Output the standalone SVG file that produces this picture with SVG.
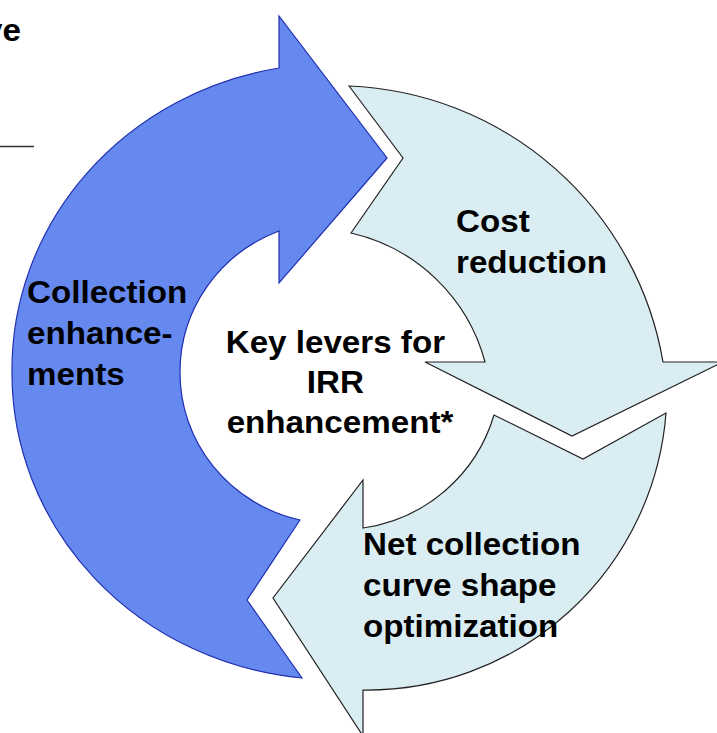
<svg xmlns="http://www.w3.org/2000/svg" width="717" height="733" viewBox="0 0 717 733">
  <style>
    .lbl { font-family: "Liberation Sans", Arial, sans-serif; font-weight: bold; font-size: 31px; fill: #000; }
    .main { fill: #6689f0; stroke: #1f2fb0; stroke-width: 1.2; stroke-linejoin: miter; }
    .pale { fill: #daedf2; stroke: #222; stroke-width: 1.2; stroke-linejoin: miter; }
  </style>
  <rect width="717" height="733" fill="#fff"/>

  <!-- title fragment and rule, top-left -->
  <g id="title">
    <text class="lbl" text-anchor="end" transform="translate(21,41) scale(1.07,1)">ve</text>
    <path d="M0,146.5 H34" stroke="#333" stroke-width="1.5" fill="none"/>
  </g>

  <!-- left arc arrow (arcs split at the leftmost point) -->
  <g id="collection">
    <path class="main" d="M387,158 L279,283 L279,231 A154 151 0 0 0 180,372 A154 151 0 0 0 300,520 L247,600 L302,678 A322 306 0 0 1 12,372 A322 306 0 0 1 279,68 L279,16 Z"/>
    <text class="lbl" transform="translate(27,303) scale(1.07,1)">
      <tspan x="0" y="0">Collection</tspan>
      <tspan x="0" y="41.5">enhance-</tspan>
      <tspan x="0" y="82">ments</tspan>
    </text>
  </g>

  <!-- upper-right arc arrow -->
  <g id="cost">
    <path class="pale" d="M349,86 A332 332 0 0 1 663,362 L723,362 L572,436 L425,362 L485,362 A180 180 0 0 0 351,233 L403,158 Z"/>
    <text class="lbl" transform="translate(456,232) scale(1.07,1)">
      <tspan x="0" y="0">Cost</tspan>
      <tspan x="0" y="41">reduction</tspan>
    </text>
  </g>

  <!-- lower arc arrow -->
  <g id="curve">
    <path class="pale" d="M666,413 A300 300 0 0 1 363,690 L363,736 L273,598 L363,480 L363,528 A160 160 0 0 0 494,415 L583,459 Z"/>
    <text class="lbl" transform="translate(363,555) scale(1.07,1)">
      <tspan x="0" y="0">Net collection</tspan>
      <tspan x="0" y="41">curve shape</tspan>
      <tspan x="0" y="82">optimization</tspan>
    </text>
  </g>

  <!-- centre label -->
  <g id="centre">
    <text class="lbl" text-anchor="middle" transform="translate(340,353) scale(1.07,1)">
      <tspan x="0" y="0">Key levers for</tspan>
      <tspan x="0" y="40">IRR</tspan>
      <tspan x="0" y="80">enhancement*</tspan>
    </text>
  </g>

  <g id="connectors"/>
</svg>
